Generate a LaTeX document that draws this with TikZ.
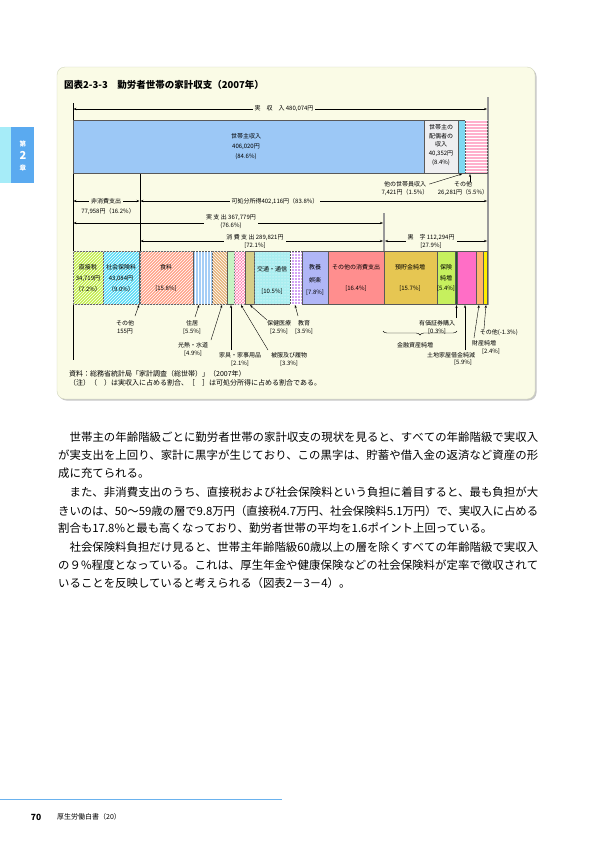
\documentclass[tikz,border=0pt]{standalone}
\usepackage{fontspec}
\setmainfont{Noto Sans CJK JP}
\usetikzlibrary{patterns,decorations.pathreplacing,arrows.meta}
\XeTeXlinebreaklocale "ja"
\XeTeXlinebreakskip=0pt plus 2pt minus 1pt
\definecolor{boxbg}{HTML}{FAFBE6}
\definecolor{boxedge}{HTML}{D2D6BE}
\definecolor{tabcyan}{HTML}{A6ECF8}
\definecolor{tabblue}{HTML}{5AAAF0}
\definecolor{footblue}{HTML}{6AB2EE}
\definecolor{cHead}{HTML}{9CC8F6}
\definecolor{cSpouse}{HTML}{EEEEF0}
\definecolor{cMember}{HTML}{7ED8F2}
\definecolor{cOtherInc}{HTML}{FFB0CC}
\definecolor{cTax}{HTML}{C4EE4E}
\definecolor{cSocial}{HTML}{5ADCF6}
\definecolor{cFood}{HTML}{FFA48A}
\definecolor{cHouse}{HTML}{A6CEF6}
\definecolor{cFuel}{HTML}{E6B47C}
\definecolor{cFurn}{HTML}{C6F4C2}
\definecolor{cCloth}{HTML}{FF7EB0}
\definecolor{cMed}{HTML}{D6CE88}
\definecolor{cTrans}{HTML}{AAEEF0}
\definecolor{cEdu}{HTML}{D4A4F4}
\definecolor{cRec}{HTML}{B0B6F6}
\definecolor{cOtherCons}{HTML}{FF8E8E}
\definecolor{cSave}{HTML}{E6C652}
\definecolor{cIns}{HTML}{C6F05E}
\definecolor{cSec}{HTML}{1E5A28}
\definecolor{cLand}{HTML}{FF6EC6}
\definecolor{cProp}{HTML}{FFB46C}
\definecolor{cOtherSav}{HTML}{FFEE00}
\tikzset{
  seg/.style={draw=black!65, line width=0.4pt},
  hatch/.style={postaction={pattern=#1, pattern color=white}},
  lbl/.style={font=\fontsize{6}{8}\selectfont, inner sep=0.6pt, align=center},
  gap/.style={lbl, fill=boxbg, inner xsep=2pt},
  tip/.style={-{Stealth[length=3pt,width=2.2pt]}, line width=0.4pt},
  span/.style={{Stealth[length=3pt,width=2.2pt]}-{Stealth[length=3pt,width=2.2pt]}, line width=0.4pt},
  guide/.style={line width=0.45pt},
  greyguide/.style={draw=black!40, line width=1.4pt},
  body/.style={font=\fontsize{11.4}{13}\selectfont, inner sep=0pt, anchor=west},
  src/.style={font=\fontsize{7}{8}\selectfont, inner sep=0pt, anchor=west},
}
\newcommand\incseg[3]{\path[seg,#3] (#1,120) rectangle (#2,173);}
\newcommand\outseg[3]{\path[seg,#3] (#1,251) rectangle (#2,304);}
\newcommand\fullline[1]{\parbox{480pt}{\parfillskip=0pt\relax #1}}
\begin{document}
\begin{tikzpicture}[x=1pt,y=-1pt]
\useasboundingbox (0,0) rectangle (595,841);
\fill[white] (0,0) rectangle (595,841);

% chapter tab
\fill[tabcyan] (0,127) rectangle (11,183);
\fill[tabblue] (11,127) rectangle (34,183);
\node[text=white, font=\fontsize{6.5}{7}\selectfont\bfseries, inner sep=0] (tab1) at (23,144) {第};
\node[text=white, font=\fontsize{11}{12}\selectfont\bfseries, inner sep=0] (tab2) at (23,155) {2};
\node[text=white, font=\fontsize{6.5}{7}\selectfont\bfseries, inner sep=0] (tab3) at (23,168) {章};

% figure box
\fill[black!22, rounded corners=8pt] (58.5,68.5) rectangle (536.5,400.5);
\draw[boxedge, fill=boxbg, rounded corners=8pt] (57,67) rectangle (535,399);
\node[font=\fontsize{9.5}{10}\selectfont\bfseries, anchor=west, inner sep=0] (title) at (64,85) {図表2-3-3　勤労者世帯の家計収支（2007年）};

% guide lines
\draw[guide] (73,103) -- (73,360);
\draw[greyguide] (488,97) -- (488,305);
\draw[guide] (140,173) -- (140,251);
\draw[greyguide] (384,213) -- (384,251);

% total income span
\draw[span] (73.5,109) -- (487,109);
\node[gap] (tot) at (284,109) {実　収　入 480,074円};

% income bar
\incseg{73}{424}{fill=cHead}
\incseg{424}{458}{fill=cSpouse}
\incseg{458}{465}{fill=cMember}
\incseg{465}{487.5}{fill=cOtherInc, hatch=horizontal lines}
\node[lbl, font=\fontsize{6}{10}\selectfont] (head) at (246,147) {世帯主収入\\406,020円\\(84.6\%)};
\node[lbl, font=\fontsize{6}{8.9}\selectfont] (spouse) at (441,145) {世帯主の\\配偶者の\\収入\\40,352円\\(8.4\%)};
\node[lbl] (member) at (405,189) {他の世帯員収入\\7,421円（1.5\%）};
\node[lbl] (othinc) at (463,189) {その他\\26,281円（5.5\%）};
\coordinate (memberT) at (462,174);
\coordinate (othincT) at (470,174);
\draw[tip] (member.north east) ++(0,3) -- (memberT);
\draw[tip] (470,182) -- (othincT);

% spans
\draw[span] (73.5,201) -- (139.5,201);
\draw[span] (140.5,201) -- (487,201);
\node[gap] (nonc) at (106,201) {非消費支出};
\node[lbl] (nonc2) at (108,211) {77,958円（16.2\%）};
\node[gap] (disp) at (275,201) {可処分所得402,116円（83.8\%）};
\draw[span] (73.5,223) -- (383,223);
\node[gap, font=\fontsize{6}{8}\selectfont] (actual) at (231,222) {実 支 出 367,779円\\(76.6\%)};
\draw[span] (140.5,241) -- (383,241);
\node[gap] (cons) at (255,241) {消 費 支 出 289,821円\\{[72.1\%]}};
\draw[span] (385,241) -- (487,241);
\node[gap] (surplus) at (431,241) {黒　字 112,294円\\{[27.9\%]}};

% expenditure bar
\outseg{73}{103}{fill=cTax, hatch=north east lines}
\outseg{103}{139}{fill=cSocial, hatch=north east lines}
\outseg{140}{193}{fill=cFood, hatch=north east lines}
\outseg{193}{212}{fill=cHouse, hatch=vertical lines}
\outseg{212}{227}{fill=cFuel, hatch=north west lines}
\outseg{227}{234}{fill=cFurn}
\outseg{234}{245}{fill=cCloth, hatch=crosshatch}
\outseg{245}{254}{fill=cMed}
\outseg{254}{290}{fill=cTrans, hatch=dots}
\outseg{290}{302}{fill=cEdu, hatch=grid}
\outseg{302}{328}{fill=cRec}
\outseg{328}{384}{fill=cOtherCons}
\outseg{384}{437}{fill=cSave}
\outseg{437}{455}{fill=cIns}
\outseg{455}{457}{fill=cSec}
\outseg{457}{476}{fill=cLand}
\outseg{476}{483}{fill=cProp}
\outseg{483}{487.5}{fill=cOtherSav}

\node[lbl, font=\fontsize{6}{11}\selectfont] (tax) at (88,278) {直接税\\34,719円\\（7.2\%）};
\node[lbl, font=\fontsize{6}{11}\selectfont] (social) at (121,278) {社会保険料\\43,084円\\（9.0\%）};
\node[lbl] (food) at (166,267) {食料};
\node[lbl] (food2) at (166,289) {[15.8\%]};
\node[lbl] (trans) at (272,269) {交通・通信};
\node[lbl] (trans2) at (272,292) {[10.5\%]};
\node[lbl, font=\fontsize{6}{12.5}\selectfont] (rec) at (315,280) {教養\\娯楽\\{[7.8\%]}};
\node[lbl] (ocons) at (356,267) {その他の消費支出};
\node[lbl] (ocons2) at (356,289) {[16.4\%]};
\node[lbl] (save) at (410,267) {預貯金純増};
\node[lbl] (save2) at (410,289) {[15.7\%]};
\node[lbl, font=\fontsize{6}{10.5}\selectfont] (ins) at (446,278) {保険\\純増\\{[5.4\%]}};

% annotations below
\node[lbl] (oth155) at (125,327) {その他\\155円};
\node[lbl] (house) at (192,327) {住居\\{[5.5\%]}};
\node[lbl] (fuel) at (193,349) {光熱・水道\\{[4.9\%]}};
\node[lbl] (furn) at (240,359) {家具・家事用品\\{[2.1\%]}};
\node[lbl] (cloth) at (289,359) {被服及び履物\\{[3.3\%]}};
\node[lbl] (med) at (279,327) {保健医療\\{[2.5\%]}};
\node[lbl] (edu) at (304,327) {教育\\{[3.5\%]}};
\node[lbl] (sec) at (437,327) {有価証券購入\\{[0.3\%]}};
\node[lbl] (fin) at (415,345) {金融資産純増};
\node[lbl] (land) at (451,355) {土地家屋借金純減};
\node[lbl] (land2) at (463,363) {[5.9\%]};
\node[lbl] (prop) at (484,343) {財産純増};
\node[lbl] (prop2) at (491,352) {[2.4\%]};
\node[lbl, anchor=west] (othsav) at (479,333) {その他(-1.3\%)};

\coordinate (t155) at (139,305);
\coordinate (tHouse) at (199,305);
\coordinate (tFuel) at (222,305);
\coordinate (tFurn) at (231,305);
\coordinate (tCloth) at (241,305);
\coordinate (tMed) at (250,305);
\coordinate (tEdu) at (295,305);
\coordinate (tSec) at (456.5,305);
\coordinate (tLand) at (465,305);
\coordinate (tProp) at (479,305);
\coordinate (tOthSav) at (486,305);

\draw[tip] (135,316) -- (t155);
\draw[tip] (195,317) -- (tHouse);
\draw[tip] (211,340) -- (tFuel);
\draw[tip] (231,350) -- (tFurn);
\draw[tip] (268,350) -- (tCloth);
\draw[tip] (267,320) -- (tMed);
\draw[tip] (298,316) -- (tEdu);
\draw[tip] (456.5,318) -- (tSec);
\draw[tip] (465,350) -- (tLand);
\draw[tip] (474,338) -- (tProp);
\draw[tip] (484,329) -- (tOthSav);
\draw[line width=0.4pt, decorate, decoration={brace, mirror, amplitude=4pt}] (383,331) -- (457,331);

% source
\node[src] (srcA) at (69,374) {資料：総務省統計局「家計調査（総世帯）」（2007年）};
\node[src] (srcB) at (69,383) {（注）（　）は実収入に占める割合、［　］は可処分所得に占める割合である。};

% body text
\node[body] (p1) at (58,437) {\fullline{　世帯主の年齢階級ごとに勤労者世帯の家計収支の現状を見ると、すべての年齢階級で実収入}};
\node[body] (p2) at (58,455) {\fullline{が実支出を上回り、家計に黒字が生じており、この黒字は、貯蓄や借入金の返済など資産の形}};
\node[body] (p3) at (58,473) {成に充てられる。};
\node[body] (p4) at (58,492) {\fullline{　また、非消費支出のうち、直接税および社会保険料という負担に着目すると、最も負担が大}};
\node[body] (p5) at (58,511) {\fullline{きいのは、50～59歳の層で9.8万円（直接税4.7万円、社会保険料5.1万円）で、実収入に占める}};
\node[body] (p6) at (58,528) {割合も17.8\%と最も高くなっており、勤労者世帯の平均を1.6ポイント上回っている。};
\node[body] (p7) at (58,547) {\fullline{　社会保険料負担だけ見ると、世帯主年齢階級60歳以上の層を除くすべての年齢階級で実収入}};
\node[body] (p8) at (58,565) {\fullline{の９\%程度となっている。これは、厚生年金や健康保険などの社会保険料が定率で徴収されて}};
\node[body] (p9) at (58,583) {いることを反映していると考えられる（図表2－3－4）。};

% footer
\draw[footblue, line width=0.8pt] (0,799) -- (282,799);
\node[font=\fontsize{8.5}{9}\selectfont\bfseries, inner sep=0] (pg) at (36,817) {70};
\node[font=\fontsize{7}{8}\selectfont, anchor=west, inner sep=0] (book) at (57,817) {厚生労働白書（20）};
\end{tikzpicture}
\end{document}
